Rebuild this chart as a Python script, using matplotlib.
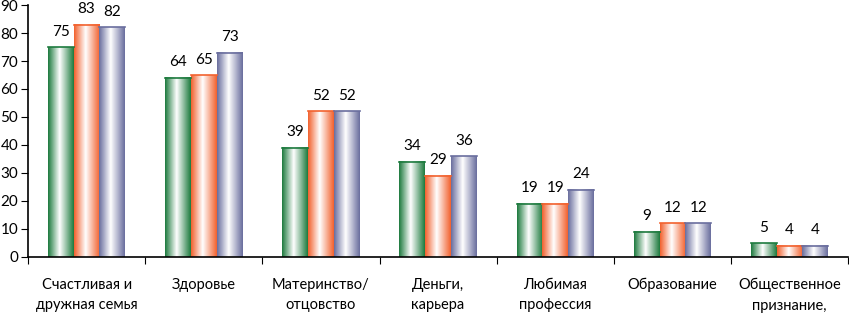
import numpy as np
import matplotlib.pyplot as plt
from matplotlib.colors import LinearSegmentedColormap

plt.rcParams['font.family'] = ['Lato', 'DejaVu Sans']

categories = ["Счастливая и\nдружная семья", "Здоровье", "Материнство/\nотцовство",
              "Деньги,\nкарьера", "Любимая\nпрофессия", "Образование",
              "Общественное\nпризнание,"]
series_a = [75, 64, 39, 34, 19, 9, 5]
series_b = [83, 65, 52, 29, 19, 12, 4]
series_c = [82, 73, 52, 36, 24, 12, 4]
yticks = list(range(0, 91, 10))

edge_colors = ["#1E7B3F", "#F2622F", "#6A6E9E"]


def gradient_cmap(c):
    return LinearSegmentedColormap.from_list("g", [(0, c), (0.45, "white"), (1, c)])


fig = plt.figure(figsize=(8.49, 3.13), dpi=100)
ax = fig.add_axes([0.033, 0.179, 0.966, 0.805])

x = np.arange(len(categories))
w = 0.22
grad = np.linspace(0, 1, 64).reshape(1, -1)
for k, (vals, col) in enumerate(zip([series_a, series_b, series_c], edge_colors)):
    bars = ax.bar(x + (k - 1) * w, vals, w, facecolor="none", edgecolor="none")
    for rect, v in zip(bars, vals):
        x0 = rect.get_x()
        ax.imshow(grad, cmap=gradient_cmap(col), extent=[x0, x0 + w, 0, v],
                  aspect="auto", zorder=2)
        ax.plot([x0, x0 + w], [v, v], color=col, lw=1.2, zorder=3)
        ax.annotate(str(v), (x0 + w / 2, v), xytext=(0, 6), textcoords="offset points",
                    ha="center", va="bottom", fontsize=11)

ax.set_xlim(-0.5, len(categories) - 0.5)
ax.set_ylim(0, 90)
ax.set_yticks(yticks)
ax.tick_params(axis="y", labelsize=11, length=5, pad=2)
ax.set_xticks(np.arange(len(categories) + 1) - 0.5)
ax.set_xticklabels([])
ax.tick_params(axis="x", which="major", length=5)
ax.set_xticks(x, minor=True)
ax.set_xticklabels(categories, minor=True, fontsize=10.5, linespacing=1.6)
ax.tick_params(axis="x", which="minor", length=0, pad=15)
for s in ["top", "right"]:
    ax.spines[s].set_visible(False)
ax.spines["left"].set_linewidth(1.2)
ax.spines["bottom"].set_linewidth(1.2)

fig.savefig("out.png", dpi=100)
